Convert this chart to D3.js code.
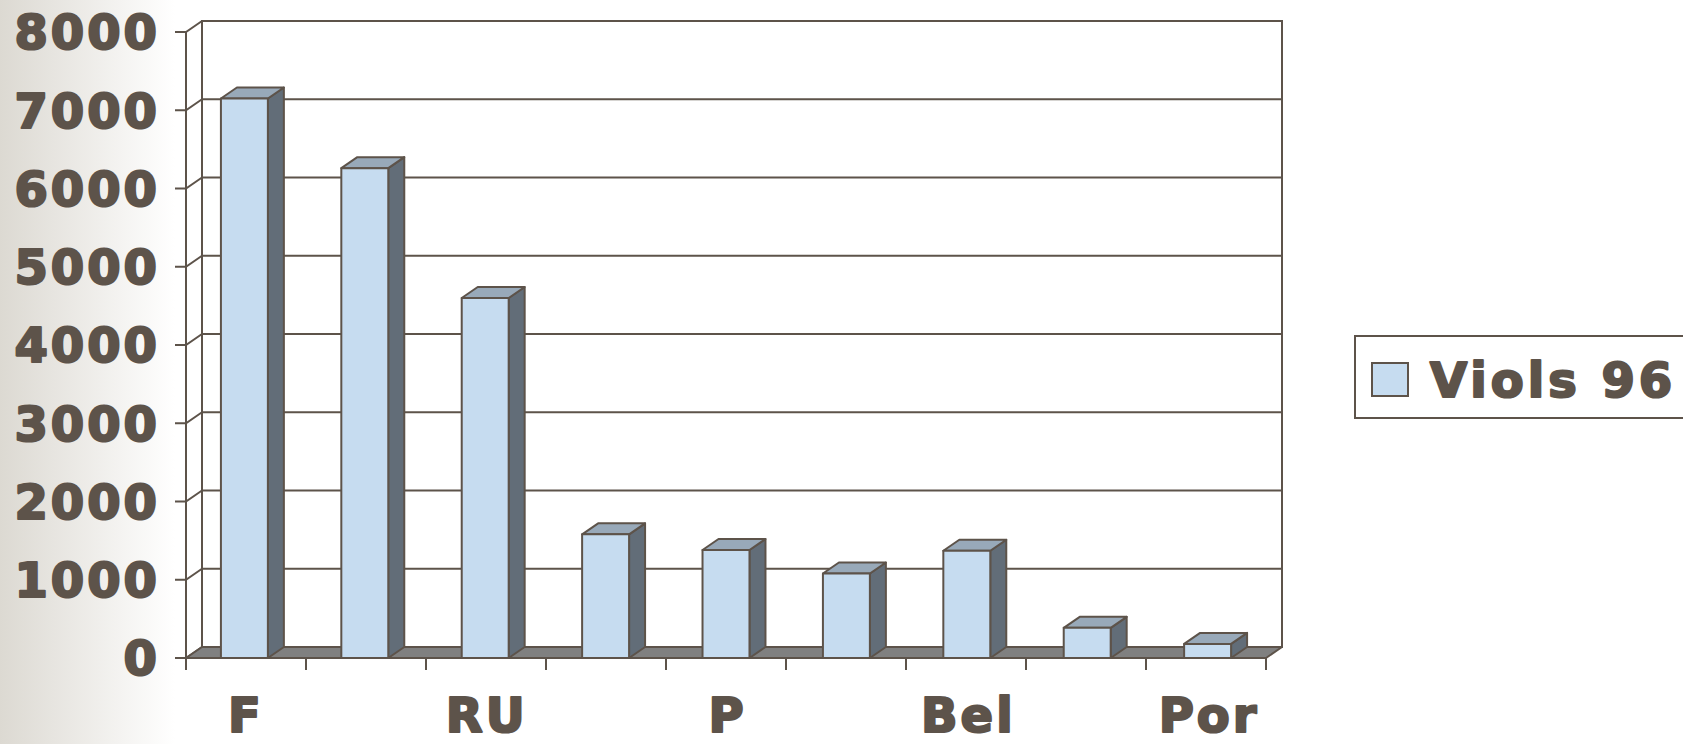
<!DOCTYPE html>
<html>
<head>
<meta charset="utf-8">
<script src="https://cdn.jsdelivr.net/npm/d3@7"></script>
<style>
  body { margin: 0; background: #fff; }
  svg { display: block; }
  text { font-family: "DejaVu Sans", sans-serif; font-weight: bold; fill: #5d534a; }
</style>
</head>
<body>
<svg width="1683" height="744"></svg>
<script>
// data
const categories = ["F", "c2", "RU", "c4", "P", "c6", "Bel", "c8", "Por"];
const xLabels = ["F", "", "RU", "", "P", "", "Bel", "", "Por"];
const viols96 = [7150, 6260, 4600, 1580, 1380, 1080, 1370, 385, 180];
const yTicks = [0, 1000, 2000, 3000, 4000, 5000, 6000, 7000, 8000];
const seriesName = "Viols 96";

const width = 1683;
const height = 744;
const ink = "#5d534a";
// depth offset of the fake 3d
const dx = 16;
const dy = -11;
const front = { left: 186, right: 1266, top: 32, bottom: 658 };
// heavy text, fakes the black weight of the original
const textStroke = 2.2;

const svg = d3.select("svg");

// soft grey fade on the left edge
const grad = svg.append("defs").append("linearGradient").attr("id", "bgfade");
grad.append("stop").attr("offset", "0%").attr("stop-color", "#dcd9d2");
grad.append("stop").attr("offset", "100%").attr("stop-color", "#ffffff");
svg.append("rect").attr("width", 175).attr("height", height).attr("fill", "url(#bgfade)");

// scales
const yScale = d3
  .scaleLinear()
  .domain([0, 8000])
  .range([front.bottom, front.top]);

const xScale = d3
  .scaleBand()
  .domain(categories)
  .range([front.left, front.right])
  .paddingInner(0.61)
  .paddingOuter(0.29);

const tickScale = d3
  .scaleLinear()
  .domain([0, categories.length])
  .range([front.left, front.right]);

// back wall
svg
  .append("rect")
  .attr("x", front.left + dx)
  .attr("y", yScale(8000) + dy)
  .attr("width", front.right - front.left)
  .attr("height", yScale(0) - yScale(8000))
  .attr("fill", "#fff")
  .attr("stroke", ink)
  .attr("stroke-width", 2);

// gridlines on the back wall
svg
  .selectAll("line.grid")
  .data(yTicks.slice(1, -1))
  .enter()
  .append("line")
  .attr("class", "grid")
  .attr("x1", front.left + dx)
  .attr("x2", front.right + dx)
  .attr("y1", d => yScale(d) + dy)
  .attr("y2", d => yScale(d) + dy)
  .attr("stroke", ink)
  .attr("stroke-width", 2);

// side wall: front axis line plus diagonals
svg
  .append("line")
  .attr("x1", front.left)
  .attr("x2", front.left)
  .attr("y1", yScale(8000))
  .attr("y2", yScale(0))
  .attr("stroke", ink)
  .attr("stroke-width", 2);

svg
  .selectAll("path.side")
  .data(yTicks)
  .enter()
  .append("path")
  .attr("class", "side")
  .attr("d", d => `M${front.left - 11},${yScale(d)}H${front.left}l${dx},${dy}`)
  .attr("fill", "none")
  .attr("stroke", ink)
  .attr("stroke-width", 2);

// floor
svg
  .append("path")
  .attr(
    "d",
    `M${front.left},${yScale(0)}H${front.right}l${dx},${dy}H${front.left + dx}Z`
  )
  .attr("fill", "#808080")
  .attr("stroke", ink)
  .attr("stroke-width", 2)
  .attr("stroke-linejoin", "round");

// x ticks under the floor
svg
  .selectAll("line.xtick")
  .data(d3.range(categories.length + 1))
  .enter()
  .append("line")
  .attr("class", "xtick")
  .attr("x1", d => tickScale(d))
  .attr("x2", d => tickScale(d))
  .attr("y1", yScale(0))
  .attr("y2", yScale(0) + 12)
  .attr("stroke", ink)
  .attr("stroke-width", 2);

// bars
const bw = xScale.bandwidth();
const bars = svg
  .selectAll("g.bar")
  .data(viols96)
  .enter()
  .append("g")
  .attr("class", "bar")
  .attr("stroke", ink)
  .attr("stroke-width", 2)
  .attr("stroke-linejoin", "round");

bars
  .append("path")
  .attr("fill", "#626d78")
  .attr("d", (d, i) => {
    const x = xScale(categories[i]) + bw;
    return `M${x},${yScale(d)}l${dx},${dy}V${yScale(0) + dy}l${-dx},${-dy}Z`;
  });

bars
  .append("path")
  .attr("fill", "#98a9b9")
  .attr("d", (d, i) => {
    const x = xScale(categories[i]);
    return `M${x},${yScale(d)}l${dx},${dy}h${bw}l${-dx},${-dy}Z`;
  });

bars
  .append("rect")
  .attr("fill", "#c6dcf0")
  .attr("x", (d, i) => xScale(categories[i]))
  .attr("y", d => yScale(d))
  .attr("width", bw)
  .attr("height", d => yScale(0) - yScale(d));

// y labels
svg
  .selectAll("text.ylab")
  .data(yTicks)
  .enter()
  .append("text")
  .attr("class", "ylab")
  .attr("x", 160)
  .attr("y", d => yScale(d))
  .attr("dy", "0.36em")
  .attr("text-anchor", "end")
  .attr("font-size", 48)
  .attr("letter-spacing", 3)
  .attr("stroke", ink)
  .attr("stroke-width", textStroke)
  .attr("stroke-linejoin", "round")
  .text(d => d);

// x labels, every other category
svg
  .selectAll("text.xlab")
  .data(xLabels)
  .enter()
  .append("text")
  .attr("class", "xlab")
  .attr("x", (d, i) => xScale(categories[i]) + bw / 2 + 1.5)
  .attr("y", 732)
  .attr("text-anchor", "middle")
  .attr("font-size", 48)
  .attr("letter-spacing", 3)
  .attr("stroke", ink)
  .attr("stroke-width", textStroke)
  .attr("stroke-linejoin", "round")
  .text(d => d);

// legend, runs off the right edge like the original
const legend = svg.append("g");
legend
  .append("rect")
  .attr("x", 1355)
  .attr("y", 336)
  .attr("width", 400)
  .attr("height", 82)
  .attr("fill", "#fff")
  .attr("stroke", ink)
  .attr("stroke-width", 2);
legend
  .append("rect")
  .attr("x", 1372)
  .attr("y", 363)
  .attr("width", 36)
  .attr("height", 33)
  .attr("fill", "#c6dcf0")
  .attr("stroke", ink)
  .attr("stroke-width", 2);
legend
  .append("text")
  .attr("x", 1430)
  .attr("y", 397)
  .attr("font-size", 48)
  .attr("letter-spacing", 4)
  .attr("stroke", ink)
  .attr("stroke-width", textStroke)
  .attr("stroke-linejoin", "round")
  .text(seriesName);
</script>
</body>
</html>
